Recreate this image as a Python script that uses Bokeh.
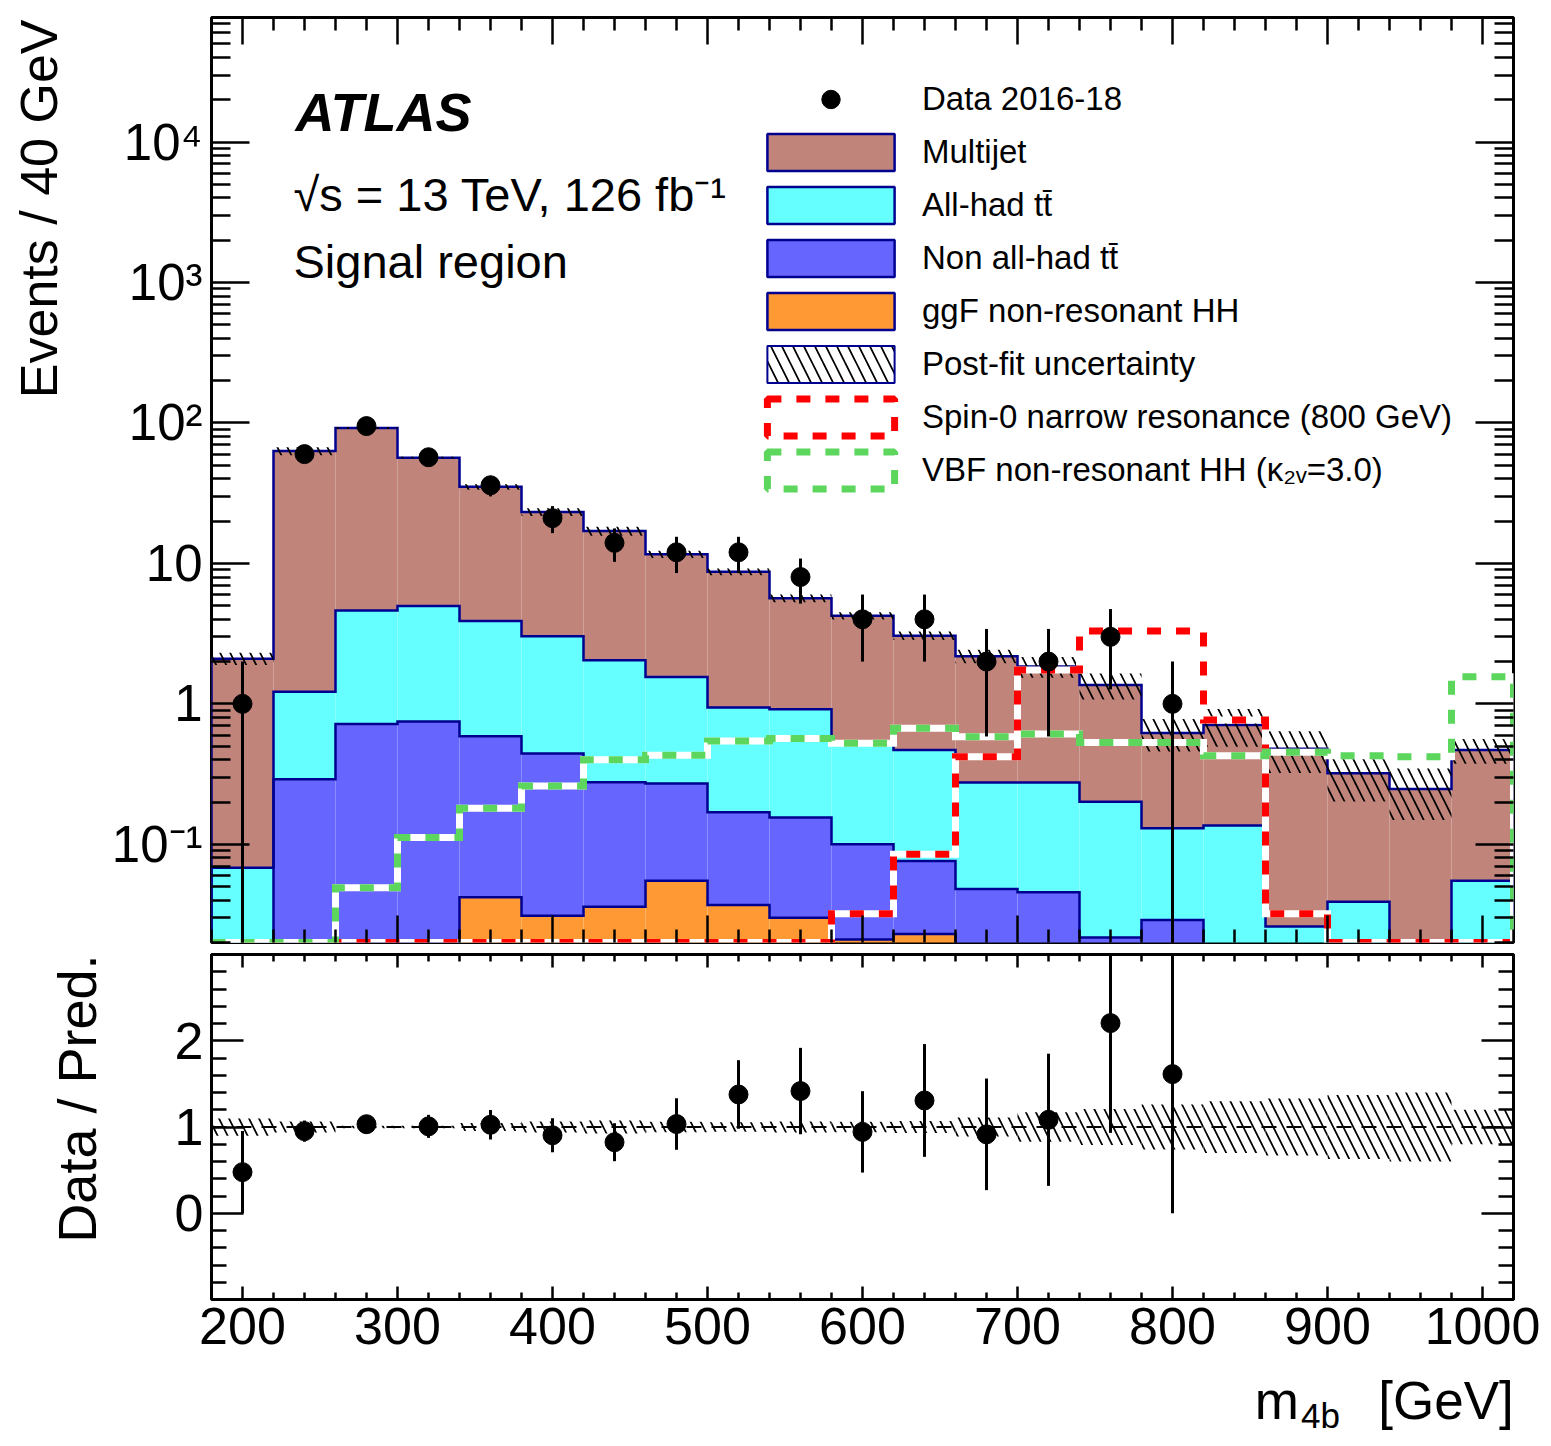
import math
import numpy as np
from bokeh.plotting import figure
from bokeh.models import (ColumnDataSource, FixedTicker, LinearAxis, LogAxis,
                          Label, Legend, LegendItem, Span, Range1d, CustomJSTickFormatter)
from bokeh.layouts import column, row
from bokeh.core.properties import value
from bokeh.embed import file_html
from bokeh.resources import INLINE

# ---------------- data ----------------
bin_edges = [180, 220, 260, 300, 340, 380, 420, 460, 500, 540, 580,
             620, 660, 700, 740, 780, 820, 860, 900, 940, 980, 1020]
bin_centers = [200, 240, 280, 320, 360, 400, 440, 480, 520, 560, 600,
               640, 680, 720, 760, 800, 840, 880, 920, 960, 1000]
data_counts = [1, 60, 95, 57, 36, 21, 14, 12, 12, 8, 4, 4, 2, 2, 3, 1, 0, 0, 0, 0, 0]
multijet = [2.03, 61.8, 87.4, 51.6, 31.2, 20.2, 14.95, 10.05, 7.77, 4.73, 3.72,
            2.59, 1.91, 1.57, 1.16, 0.49, 0.571, 0.454, 0.281, 0.233, 0.414]
allhad_tt = [0.060, 0.93, 3.90, 4.23, 3.30, 2.58, 1.77, 1.28, 0.775, 0.762, 0.42,
             0.393, 0.228, 0.230, 0.179, 0.101, 0.126, 0.018, 0.031, 0.009, 0.049]
nonallhad_tt = [0.007, 0.288, 0.712, 0.738, 0.547, 0.413, 0.241, 0.216, 0.132, 0.125, 0.079,
                0.053, 0.038, 0.0375, 0.0157, 0.0239, 0.007, 0.006, 0.006, 0.005, 0.005]
ggf_hh = [0.001, 0.002, 0.008, 0.012, 0.042, 0.031, 0.036, 0.055, 0.037, 0.030, 0.021,
          0.023, 0.010, 0.008, 0.006, 0.005, 0.003, 0.002, 0.002, 0.001, 0.001]
postfit_rel_unc = [0.10, 0.065, 0.015, 0.015, 0.045, 0.065, 0.075, 0.06, 0.055, 0.065, 0.06,
                   0.07, 0.11, 0.17, 0.21, 0.26, 0.30, 0.33, 0.37, 0.40, 0.20]
spin0_800 = [0, 0, 0, 0, 0, 0, 0, 0, 0, 0, 0.032,
             0.085, 0.42, 1.74, 3.3, 3.3, 0.767, 0.032, 0, 0, 0]
vbf_k2v3 = [0, 0, 0.049, 0.112, 0.181, 0.26, 0.40, 0.43, 0.543, 0.566, 0.525,
            0.67, 0.583, 0.61, 0.53, 0.53, 0.428, 0.452, 0.428, 0.42, 1.56]
x_major_ticks = [200, 300, 400, 500, 600, 700, 800, 900, 1000]
y_major_ticks = [0.1, 1, 10, 100, 1000, 10000]
y_tick_labels = ["10\u207b\u00b9", "1", "10", "10\u00b2", "10\u00b3", "10\u2074"]
ratio_major_ticks = [0, 1, 2]

# ---------------- styles ----------------
FONT = "Liberation Sans"
C_MJ = "#C0847A"
C_ALL = "#66FFFF"
C_NON = "#6666FF"
C_GGF = "#FF9933"
C_RED = "#FF0000"
C_GREEN = "#5CD65C"
NAVY = "#000090"
YMIN, YMAX = 0.02, 7.7e4
FLOOR = 1e-4

# geometry (px)
LEFT_W = 108          # strip that holds the vertical axis titles
BL = 103              # left border of the panels (tick labels)
PW = BL + 1302 + 29   # width of the stacked panels
H1, H2, H3 = 948, 417, 78
TOTAL_H = H1 + H2 + H3

edges = np.array(bin_edges, float)
left, right = edges[:-1], edges[1:]
centers = np.array(bin_centers, float)
c1 = np.array(ggf_hh)
c2 = c1 + np.array(nonallhad_tt)
c3 = c2 + np.array(allhad_tt)
c4 = c3 + np.array(multijet)
total = c4
rel = np.array(postfit_rel_unc)


def step_xy(vals, floor):
    xs, ys = [edges[0]], [floor]
    for i, v in enumerate(vals):
        xs += [edges[i], edges[i + 1]]
        ys += [v, v]
    xs.append(edges[-1])
    ys.append(floor)
    return xs, ys


BLANK = CustomJSTickFormatter(code="return '';")


def style_axis(ax, major_in, minor_in, labels=False, size="51px", standoff=10):
    ax.axis_line_color = None
    ax.major_tick_in = major_in
    ax.major_tick_out = 0
    ax.minor_tick_in = minor_in
    ax.minor_tick_out = 0
    ax.major_tick_line_width = 2.5
    ax.minor_tick_line_width = 2.5
    ax.major_tick_line_color = "black"
    ax.minor_tick_line_color = "black"
    if labels:
        ax.major_label_text_font = FONT
        ax.major_label_text_font_size = size
        ax.major_label_standoff = standoff
        ax.major_label_text_color = "black"
    else:
        ax.formatter = BLANK
        ax.major_label_text_font_size = "1px"
        ax.major_label_standoff = 0


def add_label(p, x, y, text, size, style="normal"):
    p.add_layout(Label(x=x, y=y, x_units="screen", y_units="screen", text=text,
                       text_font=FONT, text_font_size=f"{size}px", text_font_style=style,
                       text_align="left", text_baseline="alphabetic", text_color="black"))


def text_panel(w, h):
    f = figure(width=w, height=h, x_range=Range1d(0, w), y_range=Range1d(0, h),
               x_axis_location=None, y_axis_location=None, toolbar_location=None,
               output_backend="svg", min_border=0, min_border_left=0, min_border_right=0,
               min_border_top=0, min_border_bottom=0, title=None)
    f.outline_line_color = None
    f.xgrid.grid_line_color = None
    f.ygrid.grid_line_color = None
    f.background_fill_color = "white"
    f.border_fill_color = "white"
    return f


def put_text(f, x, y, text, size, align="left", angle=0.0):
    f.text(x=[x], y=[y], text=[text], angle=angle, text_align=align,
           text_baseline="alphabetic", text_font=value(FONT),
           text_font_size=value(f"{size}px"), text_color="black")


x_minor = [v for v in range(180, 1021, 20) if v not in x_major_ticks]
xt = FixedTicker(ticks=x_major_ticks, minor_ticks=x_minor)
y_minor = [k * 10.0 ** d for d in range(-2, 5) for k in range(2, 10)]
yt = FixedTicker(ticks=y_major_ticks, minor_ticks=y_minor)

# ---------------- main panel ----------------
xr = Range1d(180, 1020)
p1 = figure(width=PW, height=H1, x_range=xr, y_range=Range1d(YMIN, YMAX),
            y_axis_type="log", output_backend="svg", toolbar_location=None,
            min_border_left=BL, min_border_right=29, min_border_top=17, min_border_bottom=6)
p1.xgrid.grid_line_color = None
p1.ygrid.grid_line_color = None
p1.outline_line_color = "black"
p1.outline_line_width = 3
p1.background_fill_color = "white"
p1.border_fill_color = "white"

p1.xaxis.ticker = xt
style_axis(p1.xaxis[0], 27, 13)
p1.yaxis.ticker = yt
p1.yaxis.major_label_overrides = {t: s for t, s in zip(y_major_ticks, y_tick_labels)}
style_axis(p1.yaxis[0], 38, 19, labels=True, size="51px", standoff=9)
top1 = LinearAxis(ticker=xt)
style_axis(top1, 27, 13)
p1.add_layout(top1, "above")
right1 = LogAxis(ticker=yt)
style_axis(right1, 38, 19)
p1.add_layout(right1, "right")

stack_src = ColumnDataSource(dict(left=left, right=right,
                                  b_mj=np.maximum(c3, FLOOR), t_mj=c4,
                                  b_all=np.maximum(c2, FLOOR), t_all=c3,
                                  b_non=np.maximum(c1, FLOOR), t_non=c2,
                                  b_ggf=np.full(21, FLOOR), t_ggf=c1,
                                  b_unc=total * (1 - rel), t_unc=total * (1 + rel)))
for key, col in [("mj", C_MJ), ("all", C_ALL), ("non", C_NON), ("ggf", C_GGF)]:
    p1.quad(left="left", right="right", bottom="b_" + key, top="t_" + key,
            source=stack_src, fill_color=col, line_color=None)
for cum in [c1, c2, c3, c4]:
    xs, ys = step_xy(np.maximum(cum, FLOOR), FLOOR)
    p1.line(xs, ys, line_color=NAVY, line_width=2.5, line_join="miter")
p1.quad(left="left", right="right", bottom="b_unc", top="t_unc", source=stack_src,
        fill_color="white", fill_alpha=0, line_color=None,
        hatch_pattern="\\", hatch_color="black", hatch_weight=1.7, hatch_scale=20)
for vals, col in [(spin0_800, C_RED), (vbf_k2v3, C_GREEN)]:
    xs, ys = step_xy(np.maximum(np.array(vals, float), YMIN), YMIN)
    p1.line(xs, ys, line_color="white", line_width=7, line_join="miter")
    p1.line(xs, ys, line_color=col, line_width=7, line_dash="14 15", line_join="miter")
d = np.array(data_counts, float)
mask = d > 0
xd, yd = centers[mask], d[mask]
err = np.sqrt(yd)
p1.segment(x0=xd, y0=np.maximum(yd - err, FLOOR), x1=xd, y1=yd + err,
           line_color="black", line_width=3)
data_r = p1.scatter(xd, yd, size=19, marker="circle", fill_color="black", line_color="black")


def lbox(key, **kw):
    r = p1.quad(left="left", right="right", bottom="b_" + key, top="t_" + key,
                source=stack_src, **kw)
    r.visible = False
    return r


items = [
    LegendItem(label="Data 2016-18", renderers=[data_r]),
    LegendItem(label="Multijet", renderers=[lbox("mj", fill_color=C_MJ, line_color=NAVY, line_width=2.5)]),
    LegendItem(label="All-had t\u0074\u0304", renderers=[lbox("all", fill_color=C_ALL, line_color=NAVY, line_width=2.5)]),
    LegendItem(label="Non all-had t\u0074\u0304", renderers=[lbox("non", fill_color=C_NON, line_color=NAVY, line_width=2.5)]),
    LegendItem(label="ggF non-resonant HH", renderers=[lbox("ggf", fill_color=C_GGF, line_color=NAVY, line_width=2.5)]),
    LegendItem(label="Post-fit uncertainty", renderers=[lbox("unc", fill_color="white", line_color=NAVY, line_width=2,
                                                              hatch_pattern="\\", hatch_color="black",
                                                              hatch_weight=1.7, hatch_scale=22)]),
    LegendItem(label="Spin-0 narrow resonance (800 GeV)",
               renderers=[lbox("unc", fill_color=None, line_color=C_RED, line_width=7, line_dash="14 15")]),
    LegendItem(label="VBF non-resonant HH (\u03ba\u2082\u1d65=3.0)",
               renderers=[lbox("unc", fill_color=None, line_color=C_GREEN, line_width=7, line_dash="14 15")]),
]
legend = Legend(items=items, location=(540, 449), glyph_width=159, glyph_height=46,
                label_height=46, spacing=7, padding=0, margin=0, label_standoff=12,
                label_text_font=FONT, label_text_font_size="33px", label_text_color="black",
                border_line_color=None, background_fill_alpha=0, inactive_fill_alpha=0)
p1.add_layout(legend)

add_label(p1, 84, 831, "ATLAS", 54, style="bold italic")
add_label(p1, 82, 748, "\u221as = 13 TeV, 126 fb\u207b\u00b9", 47)
add_label(p1, 82, 681, "Signal region", 47)

# ---------------- ratio panel ----------------
p2 = figure(width=PW, height=H2, x_range=xr, y_range=Range1d(-1, 3),
            output_backend="svg", toolbar_location=None,
            min_border_left=BL, min_border_right=29, min_border_top=6, min_border_bottom=66)
p2.xgrid.grid_line_color = None
p2.ygrid.grid_line_color = None
p2.outline_line_color = "black"
p2.outline_line_width = 3
p2.background_fill_color = "white"
p2.border_fill_color = "white"

r_minor = [round(-1 + 0.2 * i, 1) for i in range(21)]
r_minor = [v for v in r_minor if v not in ratio_major_ticks]
rt = FixedTicker(ticks=ratio_major_ticks, minor_ticks=r_minor)
p2.xaxis.ticker = xt
style_axis(p2.xaxis[0], 13, 7, labels=True, size="52px", standoff=8)
p2.yaxis.ticker = rt
style_axis(p2.yaxis[0], 32, 15, labels=True, size="52px", standoff=8)
top2 = LinearAxis(ticker=xt)
style_axis(top2, 13, 7)
p2.add_layout(top2, "above")
right2 = LinearAxis(ticker=rt)
style_axis(right2, 32, 15)
p2.add_layout(right2, "right")

ratio_src = ColumnDataSource(dict(left=left, right=right, b=1 - rel, t=1 + rel))
p2.quad(left="left", right="right", bottom="b", top="t", source=ratio_src,
        fill_color="white", fill_alpha=0, line_color=None,
        hatch_pattern="\\", hatch_color="black", hatch_weight=1.7, hatch_scale=20)
p2.add_layout(Span(location=1, dimension="width", line_color="black",
                   line_width=2, line_dash="15 10"))
ratio = yd / total[mask]
rerr = err / total[mask]
p2.segment(x0=xd, y0=ratio - rerr, x1=xd, y1=ratio + rerr, line_color="black", line_width=3)
p2.scatter(xd, ratio, size=19, marker="circle", fill_color="black", line_color="black")

# ---------------- axis-title strips ----------------
p3 = text_panel(PW, H3)
put_text(p3, 1149, 43, "m", 53)
put_text(p3, 1200, 28, "4b", 35)
put_text(p3, 1285, 43, "[GeV]", 53)

lf = text_panel(LEFT_W, TOTAL_H)
put_text(lf, 38, TOTAL_H - 19, "Events / 40 GeV", 52, align="right", angle=math.pi / 2)
put_text(lf, 76, TOTAL_H - 954, "Data / Pred.", 54, align="right", angle=math.pi / 2)

layout = row(lf, column(p1, p2, p3, spacing=0), spacing=0)
open("out.html", "w").write(file_html(layout, INLINE))
